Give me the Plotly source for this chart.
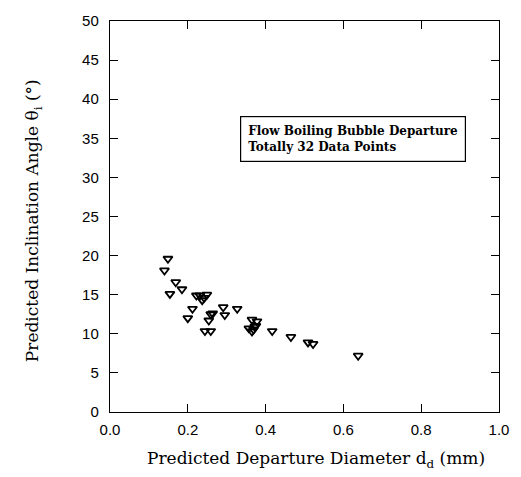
import plotly.graph_objects as go

diameter_mm = [0.149, 0.140, 0.169, 0.185, 0.154,
               0.222, 0.231, 0.249, 0.237, 0.242,
               0.212, 0.200, 0.291, 0.327,
               0.264, 0.259, 0.295, 0.254,
               0.244, 0.259,
               0.365, 0.378,
               0.357, 0.369, 0.375, 0.365, 0.372,
               0.417, 0.465, 0.509, 0.522, 0.638]
angle_deg = [19.6, 18.1, 16.6, 15.7, 15.1,
             14.9, 14.9, 15.0, 14.3, 14.6,
             13.2, 12.0, 13.4, 13.2,
             12.6, 12.5, 12.4, 11.7,
             10.35, 10.35,
             11.8, 11.6,
             10.7, 10.55, 11.0, 10.3, 10.9,
             10.35, 9.6, 8.9, 8.7, 7.2]

x_ticks = [0.0, 0.2, 0.4, 0.6, 0.8, 1.0]
x_tick_text = ["0.0", "0.2", "0.4", "0.6", "0.8", "1.0"]
y_ticks = [0, 5, 10, 15, 20, 25, 30, 35, 40, 45, 50]

x_title = "Predicted Departure Diameter d<sub>d</sub> (mm)"
y_title = "Predicted Inclination Angle θ<sub>i</sub> (°)"
legend_lines = ["Flow Boiling Bubble Departure", "Totally 32 Data Points"]

fig = go.Figure()
fig.add_trace(go.Scatter(
    x=diameter_mm, y=angle_deg, mode="markers",
    marker=dict(symbol="triangle-down-open", size=8, color="black",
                line=dict(width=1.8, color="black")),
    showlegend=False))

tick_font = dict(family="Liberation Sans", size=15, color="black")
title_font = dict(family="DejaVu Serif", size=17, color="black")

fig.update_xaxes(range=[0, 1], tickvals=x_ticks, ticktext=x_tick_text,
                 ticks="inside", ticklen=8, tickwidth=1.2, tickcolor="black",
                 showline=True, linecolor="black", linewidth=1.4, mirror="ticks",
                 showgrid=False, zeroline=False, tickfont=tick_font,
                 ticklabelstandoff=4)
fig.update_yaxes(range=[0, 50], tickvals=y_ticks,
                 ticks="inside", ticklen=8, tickwidth=1.2, tickcolor="black",
                 showline=True, linecolor="black", linewidth=1.4, mirror="ticks",
                 showgrid=False, zeroline=False, tickfont=tick_font,
                 ticklabelstandoff=7)

# axis titles
fig.add_annotation(x=0.529, y=-0.121, xref="paper", yref="paper",
                   xanchor="center", yanchor="middle", showarrow=False,
                   text=x_title, font=title_font)
fig.add_annotation(x=-0.196, y=0.49, xref="paper", yref="paper",
                   xanchor="center", yanchor="middle", showarrow=False,
                   text=y_title, font=title_font, textangle=-90)

# boxed note
fig.add_annotation(
    x=0.335, y=32.0, xref="x", yref="y", xanchor="left", yanchor="bottom",
    text="<br>".join("<b>" + s + "</b>" for s in legend_lines),
    align="left", showarrow=False,
    font=dict(family="DejaVu Serif", size=12, color="black"),
    bordercolor="black", borderwidth=1.2, borderpad=7, bgcolor="white")

fig.update_layout(width=521, height=477,
                  margin=dict(l=110, r=14, t=16, b=65),
                  plot_bgcolor="white", paper_bgcolor="white")

fig.write_html("out.html")
